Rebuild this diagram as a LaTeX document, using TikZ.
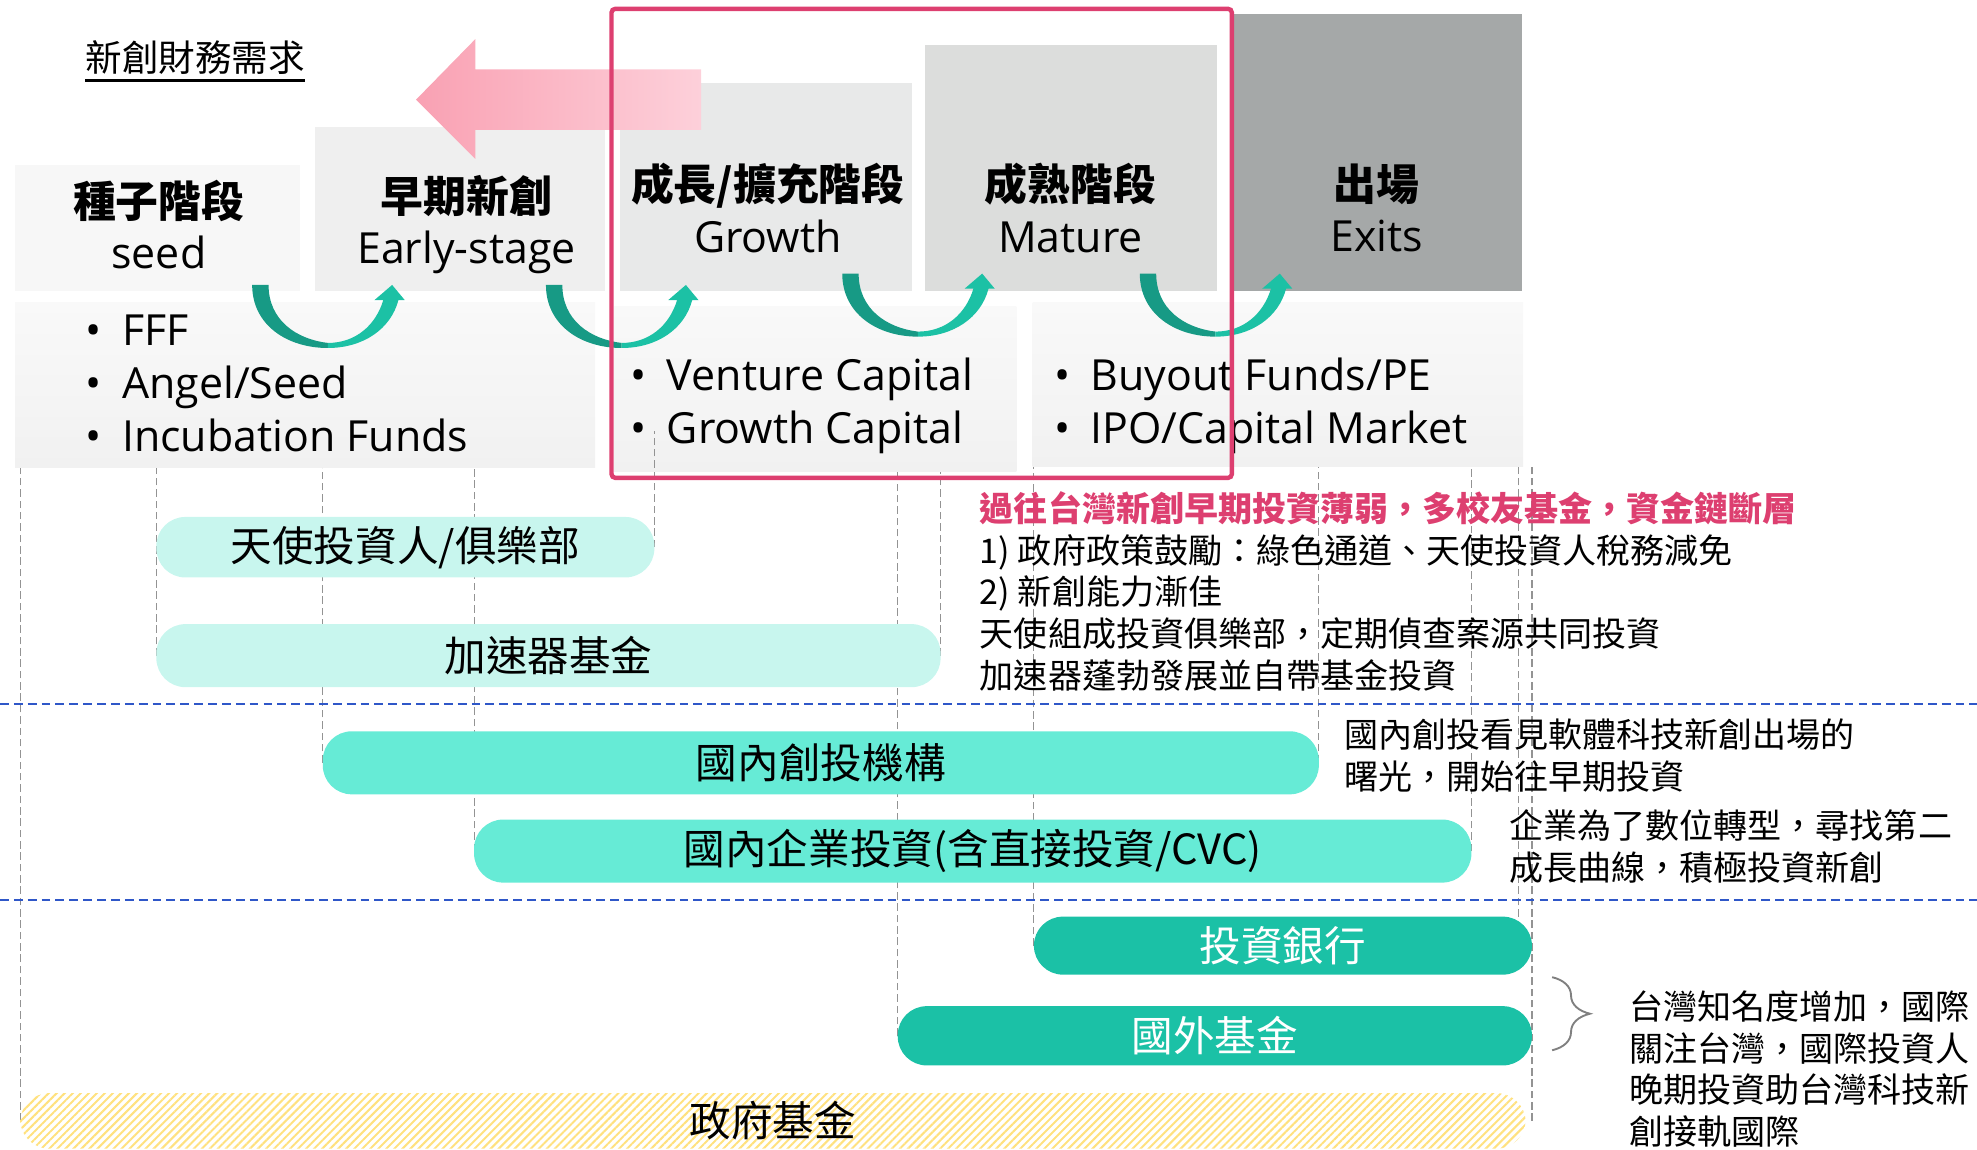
\documentclass[tikz,border=0pt]{standalone}
\usepackage{fontspec}
\setmainfont{Open Sans}
\newfontfamily\cjk{Noto Sans CJK TC}
\usetikzlibrary{patterns.meta,decorations.pathreplacing}
\pgfdeclarelayer{base}
\pgfdeclarelayer{guides}
\pgfsetlayers{base,guides,main}
\definecolor{stA}{HTML}{F7F7F7}
\definecolor{stB}{HTML}{EFEFEF}
\definecolor{stC}{HTML}{E8E9E9}
\definecolor{stD}{HTML}{DCDDDC}
\definecolor{stE}{HTML}{A5A8A8}
\definecolor{boxtop}{HTML}{F9F9F9}
\definecolor{boxbot}{HTML}{F1F1F1}
\definecolor{mint}{HTML}{C8F6EE}
\definecolor{aqua}{HTML}{66EBD6}
\definecolor{teal}{HTML}{1BC1A6}
\definecolor{tealdark}{HTML}{179A85}
\definecolor{teallight}{HTML}{1CC1A5}
\definecolor{pinkL}{HTML}{F9A1B3}
\definecolor{pinkR}{HTML}{FDD0DA}
\definecolor{frame}{HTML}{DD3F70}
\definecolor{divblue}{HTML}{2F57C8}
\definecolor{hatch}{HTML}{FFE17F}
\begin{document}
\begin{tikzpicture}[x=1pt,y=-1pt,
		stage/.style={anchor=south west,inner sep=0,outer sep=0},
		stagetxt/.style={align=center,inner sep=0,font=\fontsize{34}{41}\selectfont},
		listbox/.style={anchor=north west,inner sep=0,outer sep=0,top color=boxtop,bottom color=boxbot},
		listtxt/.style={anchor=west,align=left,inner sep=0,font=\fontsize{34}{42}\selectfont},
		pill/.style={rounded corners=23pt,inner sep=0,outer sep=0,font=\cjk\fontsize{33}{33}\selectfont},
		guide/.style={gray!85,dash pattern=on 6pt off 3pt,line width=0.9pt},
		divider/.style={divblue,dash pattern=on 7pt off 4pt,line width=1.6pt},
		note/.style={anchor=west,align=left,inner sep=0,font=\cjk\fontsize{27}{33}\selectfont},
		brace/.style={decorate,decoration={brace,amplitude=30pt},gray,line width=1.5pt}]
	\useasboundingbox (0,0) rectangle (1568,912);

	\node[font=\cjk\fontsize{29}{29}\selectfont,inner sep=0] (TT) at (155,46) {新創財務需求};
	\draw[line width=2pt] ([yshift=-4pt]TT.south west) -- ([yshift=-4pt]TT.south east);

	\begin{pgfonlayer}{base}
	\node[stage,fill=stA,minimum width=226pt,minimum height=100pt] (SA) at (12,231) {};
	\node[stage,fill=stB,minimum width=230pt,minimum height=130pt] (SB) at (250,231) {};
	\node[stage,fill=stC,minimum width=231pt,minimum height=165pt] (SC) at (492,231) {};
	\node[stage,fill=stD,minimum width=231pt,minimum height=195pt] (SD) at (734,231) {};
	\node[stage,fill=stE,minimum width=230pt,minimum height=220pt] (SE) at (977,231) {};

	\node[listbox,minimum width=460pt,minimum height=131pt] (BA) at (12,240) {};
	\node[listbox,minimum width=319pt,minimum height=131pt] (BB) at (487,243) {};
	\node[listbox,minimum width=389pt,minimum height=130pt] (BC) at (819,240) {};
	\end{pgfonlayer}

	\shade[left color=pinkL,right color=pinkR] (330,79) -- (377,31) -- (377,55) -- (556,55) -- (556,103) -- (377,103) -- (377,126) -- cycle;

	\foreach \ax/\ay in {200/226,433/226,668/217,904/217}{
		\fill[tealdark,shift={(\ax,\ay)}] (0,0) .. controls (0,32) and (28,50) .. (60,50) -- (60,46) .. controls (35,43) and (13,28) .. (13,0) -- cycle;
		\fill[teallight,shift={(\ax,\ay)}] (60,50) .. controls (88,50) and (110,35) .. (116,12) -- (121,12) -- (111,0) -- (97,12) -- (104,12) .. controls (98,32) and (82,46) .. (60,46) -- cycle;
	}

	\node[stagetxt] (TA) at (126,178) {{\cjk\bfseries 種子階段}\\seed};
	\node[stagetxt] (TB) at (370,178) {{\cjk\bfseries 早期新創}\\Early-stage};
	\node[stagetxt] (TC) at (609,165) {{\cjk\bfseries 成長/擴充階段}\\Growth};
	\node[stagetxt] (TD) at (849,165) {{\cjk\bfseries 成熟階段}\\Mature};
	\node[stagetxt] (TE) at (1092,165) {{\cjk\bfseries 出場}\\Exits};

	\node[listtxt] (LA) at (68,304) {\textbullet\hspace{16pt}FFF\\\textbullet\hspace{16pt}Angel/Seed\\\textbullet\hspace{16pt}Incubation Funds};
	\node[listtxt] (LB) at (500,322) {\textbullet\hspace{16pt}Venture Capital\\\textbullet\hspace{16pt}Growth Capital};
	\node[listtxt] (LC) at (836,322) {\textbullet\hspace{16pt}Buyout Funds/PE\\\textbullet\hspace{16pt}IPO/Capital Market};

	\draw[divider] (0,558) -- (1568,558);
	\draw[divider] (0,714) -- (1568,714);

	\node[pill,fill=mint,minimum width=395pt,minimum height=48pt] (PA) at (321.5,434) {天使投資人/俱樂部};
	\node[pill,fill=mint,minimum width=622pt,minimum height=50pt] (PB) at (435,520) {加速器基金};
	\node[pill,fill=aqua,minimum width=790pt,minimum height=50pt] (PC) at (651,605) {國內創投機構};
	\node[pill,fill=aqua,minimum width=791pt,minimum height=50pt] (PD) at (771.5,675) {國內企業投資(含直接投資/CVC)};
	\node[pill,fill=teal,text=white,minimum width=395pt,minimum height=46pt] (PE) at (1017.5,750) {投資銀行};
	\node[pill,fill=teal,text=white,minimum width=503pt,minimum height=47pt] (PF) at (963.5,821.5) {國外基金};
	\node[pill,pattern={Lines[angle=45,distance=4.5pt,line width=1.6pt]},pattern color=hatch,minimum width=1194pt,minimum height=44pt] (PG) at (613,889) {政府基金};

	\begin{pgfonlayer}{guides}
	\draw[guide] (PG.west) -- (PG.west |- BA.south);
	\draw[guide] (PB.west) -- (PB.west |- BA.south);
	\draw[guide] (PC.west) -- (PC.west |- BA.south);
	\draw[guide] (PD.west) -- (PD.west |- BA.south);
	\draw[guide] (PA.east) -- ++(0,-92);
	\draw[guide] (PF.west) -- (PF.west |- BB.south);
	\draw[guide] (PB.east) -- (PB.east |- BB.south);
	\draw[guide] (PE.west) -- (PE.west |- BC.south);
	\draw[guide] (PC.east) -- (PC.east |- BC.south);
	\draw[guide] (PD.east) -- (PD.east |- BC.south);
	\draw[guide] ([xshift=-11pt]PE.north east) -- ([xshift=-11pt]PE.north east |- BC.south);
	\draw[guide] (PF.east |- PG.east) -- (PF.east |- BC.south);
	\end{pgfonlayer}

	\node[note] (NA) at (777,469) {{\color{frame}\bfseries 過往台灣新創早期投資薄弱，多校友基金，資金鏈斷層}\\1) 政府政策鼓勵：綠色通道、天使投資人稅務減免\\2) 新創能力漸佳\\天使組成投資俱樂部，定期偵查案源共同投資\\加速器蓬勃發展並自帶基金投資};
	\node[note] (NB) at (1066,599) {國內創投看見軟體科技新創出場的\\曙光，開始往早期投資};
	\node[note] (NC) at (1197,671.5) {企業為了數位轉型，尋找第二\\成長曲線，積極投資新創};
	\node[note] (ND) at (1292,848) {台灣知名度增加，國際\\關注台灣，國際投資人\\晚期投資助台灣科技新\\創接軌國際};
	\draw[brace] (1231,775) -- (1231,833);

	\draw[frame,line width=3.5pt,rounded corners=3pt] (485,7) rectangle (977,379);
\end{tikzpicture}
\end{document}
